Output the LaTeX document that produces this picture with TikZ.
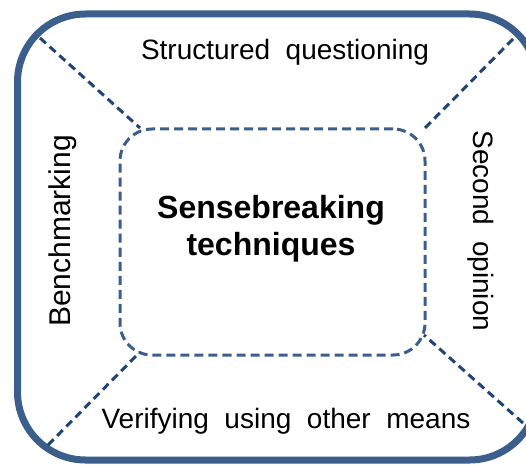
\documentclass[tikz,border=0pt]{standalone}
\usepackage{fontspec}
\setmainfont{Liberation Sans}
\newfontfamily\widesans[WordSpace=2]{Liberation Sans}
\definecolor{frameblue}{RGB}{59,94,140}
\definecolor{dashblue}{RGB}{32,68,118}
\begin{document}
\begin{tikzpicture}[x=1pt,y=-1pt,
  frame/.style={draw=frameblue, line width=7pt, rounded corners=68pt,
    minimum width=520pt, minimum height=446pt, inner sep=0pt},
  core/.style={draw=frameblue, line width=3pt, dash pattern=on 9pt off 5pt,
    rounded corners=32pt, minimum width=305pt, minimum height=226pt, inner sep=0pt},
  divider/.style={draw=dashblue, line width=3pt, dash pattern=on 8pt off 5pt},
  label/.style={font=\widesans\fontsize{28}{34}\selectfont, inner sep=0pt, anchor=base},
  title/.style={font=\fontsize{32}{38}\selectfont\bfseries, inner sep=0pt, anchor=base}]
  \useasboundingbox (0,0) rectangle (526,465);

  % outer frame and central box
  \node[frame] (outer) at (277.5,237) {};
  \node[core] (inner) at (272.5,242) {};

  % ends of the corner dividers
  \coordinate (otl) at (40,38);
  \coordinate (otr) at (513,39);
  \coordinate (obl) at (48,445);
  \coordinate (obr) at (523,423);
  \coordinate (itl) at (140,128);
  \coordinate (itr) at (424,129);
  \coordinate (ibl) at (140,352);
  \coordinate (ibr) at (424,335);

  \draw[divider] (otl) -- (itl);
  \draw[divider] (otr) -- (itr);
  \draw[divider] (obl) -- (ibl);
  \draw[divider] (obr) -- (ibr);

  % central title
  \node[title] (title1) at (271,218) {Sensebreaking};
  \node[title] (title2) at (271,255) {techniques};

  % side labels
  \node[label] (top) at (285,60) {Structured questioning};
  \node[label] (bottom) at (286,428) {Verifying using other means};
  \node[label, font=\widesans\fontsize{30}{36}\selectfont, rotate=90] (left) at (70,231) {Benchmarking};
  \node[label, rotate=-90] (right) at (473,231) {Second opinion};
\end{tikzpicture}
\end{document}
